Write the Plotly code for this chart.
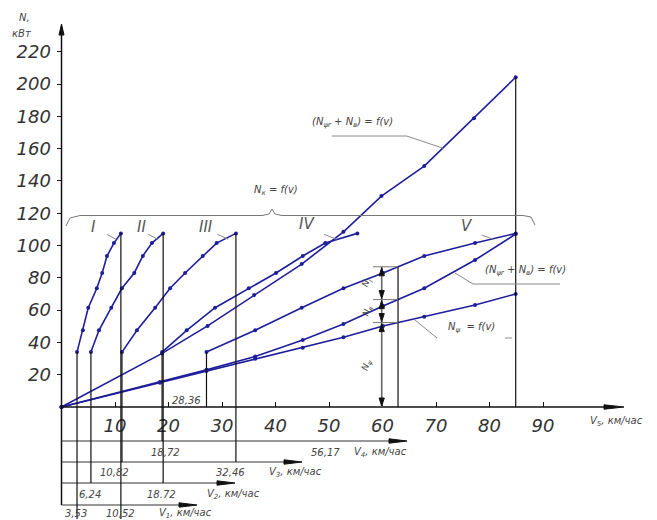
import numpy as np
import plotly.graph_objects as go

# ---------------- data (kW vs km/h) ----------------
N_engine   = [34, 47.5, 61.5, 73.5, 83, 93.5, 101.5, 107.5]
v_gear_I   = [2.9, 4.0, 5.0, 6.6, 7.6, 8.5, 9.8, 11.1]
v_gear_II  = [5.5, 7.0, 9.3, 11.3, 13.6, 15.2, 16.9, 19.0]
v_gear_III = [11.3, 14.1, 17.5, 20.3, 23.1, 26.4, 29.0, 32.6]
v_gear_IV  = [18.8, 23.4, 28.7, 35.0, 40.1, 45.1, 49.3, 55.3]
v_gear_V   = [27.1, 36.2, 44.9, 52.7, 60.1, 67.8, 77.3, 84.9]
gear_names = ["I", "II", "III", "IV", "V"]

v_total = [0, 18.8, 27.3, 36.0, 44.9, 52.7, 59.8, 67.8, 77.1, 84.9]
N_total = [0, 33.2, 50.2, 69.3, 88.5, 108.5, 130.6, 149.2, 178.8, 204.2]

v_psi_w = [0, 18.4, 27.1, 36.2, 45.1, 52.7, 60.1, 67.8, 77.3, 84.9]
N_psi_w = [0, 15.5, 23.0, 31.2, 41.5, 51.4, 62.5, 73.5, 91.0, 107.1]

v_psi = [0, 18.4, 27.1, 36.2, 45.1, 52.7, 60.1, 67.8, 77.3, 84.9]
N_psi = [0, 15.0, 22.3, 29.8, 36.7, 43.2, 50.2, 55.9, 63.2, 70.0]

y_ticks = [20, 40, 60, 80, 100, 120, 140, 160, 180, 200, 220]
x_ticks = [10, 20, 30, 40, 50, 60, 70, 80, 90]

scale_titles = ["V<sub>4</sub>, км/час", "V<sub>3</sub>, км/час",
                "V<sub>2</sub>, км/час", "V<sub>1</sub>, км/час"]
scale_marks = [["18,72", "56,17"], ["10,82", "32,46"],
               ["6,24", "18.72"], ["3,53", "10,52"]]
v5_start_label = "28,36"
v_balance = 62.9
balance_labels = ["N<sub>j</sub>", "N<sub>в</sub>", "N<sub>ψ</sub>"]

# ---------------- page geometry helpers ----------------
W, H = 657, 520
X0, Y0, SX, SY = 61.5, 407.0, 5.35, 1.615
xr = [-X0 / SX, (W - X0) / SX]
yr = [-(H - Y0) / SY, Y0 / SY]


def X(px):
    return (px - X0) / SX


def Y(py):
    return (Y0 - py) / SY


def PX(v):
    return X0 + v * SX


def PY(n):
    return Y0 - n * SY


BLUE = "#1e1e9c"
INK = "#111111"
GREY = "#444444"
LEAD = "#8a8a8a"
FONT = "DejaVu Sans"

shapes = []
ann = []


def seg(x0, y0, x1, y1, color=INK, width=1.2):
    shapes.append(dict(type="line", xref="x", yref="y", x0=x0, y0=y0, x1=x1, y1=y1,
                       line=dict(color=color, width=width)))


def poly_px(pts, color=INK, fill=True, width=1):
    d = "M " + " L ".join(f"{X(a):.4f},{Y(b):.4f}" for a, b in pts)
    if fill:
        d += " Z"
    shapes.append(dict(type="path", xref="x", yref="y", path=d,
                       fillcolor=color if fill else None,
                       line=dict(color=color, width=width)))


def wedge(tx, ty, d, L, hw, color=INK):
    if d == "r":
        pts = [(tx, ty), (tx - L, ty - hw), (tx - L, ty + hw)]
    elif d == "l":
        pts = [(tx, ty), (tx + L, ty - hw), (tx + L, ty + hw)]
    elif d == "u":
        pts = [(tx, ty), (tx - hw, ty + L), (tx + hw, ty + L)]
    else:
        pts = [(tx, ty), (tx - hw, ty - L), (tx + hw, ty - L)]
    poly_px(pts, color)


def text(x, y, s, size=10, color=GREY, xanchor="center", angle=0):
    ann.append(dict(x=x, y=y, xref="x", yref="y", text=s, showarrow=False,
                    xanchor=xanchor, yanchor="middle", textangle=angle,
                    font=dict(family=FONT, size=size, color=color, style="italic")))


# ---------------- axes (drawn) ----------------
seg(0, Y(505), 0, Y(30), INK, 1.5)
wedge(X0, 24, "u", 11, 2.5)
seg(0, 0, X(612), 0, INK, 1.5)
wedge(624, Y0, "r", 20, 2.2)

# lower speed scales
rows_py = [441, 462, 483, 505]
rows_end_px = [407, 302, 235, 197]
rows_text_py = [452, 472, 494, 513]
marks_px = [[165, 325], [114, 230], [90, 161], [76, 120]]
title_px = [352, 267, 205, 157]
for i in range(4):
    seg(0, Y(rows_py[i]), X(rows_end_px[i] - 6), Y(rows_py[i]), "#333333", 1.2)
    wedge(rows_end_px[i], rows_py[i], "r", 18, 2.2)
    for s, px in zip(scale_marks[i], marks_px[i]):
        text(X(px), Y(rows_text_py[i]), s, 10)
    text(X(title_px[i]), Y(rows_text_py[i]), scale_titles[i], 10, xanchor="left")

# ---------------- vertical reference lines from the gear ranges ----------------
bottom = Y(519)
verticals = [
    (v_gear_I[0], N_engine[0], bottom), (v_gear_I[-1], N_engine[-1], bottom),
    (v_gear_II[0], N_engine[0], Y(rows_py[2])), (v_gear_II[-1], N_engine[-1], Y(rows_py[2])),
    (v_gear_III[0], N_engine[0], Y(rows_py[1])), (v_gear_III[-1], N_engine[-1], Y(rows_py[1])),
    (v_gear_IV[0], N_engine[0], Y(rows_py[0])),
    (v_gear_V[0], N_engine[0], 0), (v_gear_V[-1], N_total[-1], 0),
]
for v, n0, n1 in verticals:
    seg(v, n0, v, n1, INK, 1.2)
text(X(186), Y(400), v5_start_label, 10)

# ---------------- power balance dimension ----------------
levels = [float(np.interp(v_balance, v_gear_V, N_engine)),
          float(np.interp(v_balance, v_psi_w, N_psi_w)),
          float(np.interp(v_balance, v_psi, N_psi)), 0.0]
seg(v_balance, levels[0], v_balance, 0, INK, 1.2)
xd = X(381.7)
seg(xd, levels[0], xd, 0, "#666666", 1.6)
for lv in levels[:3]:
    seg(X(373), lv, v_balance, lv, "#777777", 1)
for i in range(3):
    top_py, bot_py = PY(levels[i]), PY(levels[i + 1])
    wedge(381.7, top_py + 1, "u", 8, 2.6)
    wedge(381.7, bot_py - 1, "d", 8, 2.6)
    text(X(367), Y((top_py + bot_py) / 2), balance_labels[i], 9, angle=-70)

# ---------------- brace over the wheel-power curves ----------------
brace_pts = [(66, 226), (70, 218), (80, 215.5), (262, 215.5), (269, 214), (272, 209),
             (275, 214), (282, 215.5), (523, 215.5), (531, 217), (535, 225)]
poly_px(brace_pts, "#777777", fill=False, width=1)
text(X(276), Y(190), "N<sub>к</sub> = f(v)", 10)

# gear labels with leaders
gear_label_px = [(93, 227), (141, 227), (206, 227), (307, 224), (467, 226)]
leaders = [((106.7, 234.3), (116, 239.3)), ((148.3, 234.3), (157.7, 239.3)),
           ((217.3, 234.3), (228.3, 239.3)), ((324, 234.3), (336.7, 239.3)),
           ((481.7, 235), (493.3, 239.3))]
for name, (px, py), lead in zip(gear_names, gear_label_px, leaders):
    text(X(px), Y(py), name, 15, color="#555555")
    poly_px(list(lead), LEAD, fill=False, width=1)

# curve labels with leaders
text(X(352), Y(122), "(N<sub>ψr</sub> + N<sub>в</sub>) = f(v)", 10)
poly_px([(331.7, 136), (406.7, 136), (443.3, 148.3)], LEAD, fill=False, width=1)
text(X(525), Y(270), "(N<sub>ψr</sub> + N<sub>в</sub>) = f(v)", 10)
poly_px([(455, 273), (473, 284), (560, 284)], LEAD, fill=False, width=1)
text(X(471), Y(327), "N<sub>ψ</sub>  = f(v)", 10)
poly_px([(415, 320), (437, 338)], LEAD, fill=False, width=1)
poly_px([(505, 338), (512, 338)], LEAD, fill=False, width=1)

# axis titles
text(X(24), Y(17), "N,", 10)
text(X(22), Y(33), "кВт", 10)
text(X(588), Y(421), "V<sub>5</sub>, км/час", 10, xanchor="left")

# ---------------- traces ----------------
fig = go.Figure()
for vs in [v_gear_I, v_gear_II, v_gear_III, v_gear_IV, v_gear_V]:
    fig.add_trace(go.Scatter(x=vs, y=N_engine, mode="lines+markers",
                             line=dict(color=BLUE, width=1.6),
                             marker=dict(color=BLUE, size=4)))
for vs, ns in [(v_total, N_total), (v_psi_w, N_psi_w), (v_psi, N_psi)]:
    fig.add_trace(go.Scatter(x=vs, y=ns, mode="lines+markers",
                             line=dict(color=BLUE, width=1.6),
                             marker=dict(color=BLUE, size=4)))

fig.update_layout(
    width=W, height=H, margin=dict(l=0, r=0, t=0, b=0),
    paper_bgcolor="white", plot_bgcolor="white", showlegend=False,
    shapes=shapes, annotations=ann,
    xaxis=dict(range=xr, anchor="free", position=-yr[0] / (yr[1] - yr[0]),
               tickvals=x_ticks, ticks="inside", ticklen=5, tickcolor=INK,
               ticklabelstandoff=6,
               showgrid=False, zeroline=False, showline=False,
               tickfont=dict(family=FONT, size=18, color="#333333", style="italic")),
    yaxis=dict(range=yr, anchor="free", position=-xr[0] / (xr[1] - xr[0]),
               tickvals=y_ticks, ticks="outside", ticklen=5, tickcolor=INK,
               ticklabelstandoff=2,
               showgrid=False, zeroline=False, showline=False,
               tickfont=dict(family=FONT, size=18, color="#333333", style="italic")),
)
fig.write_html("out.html")
